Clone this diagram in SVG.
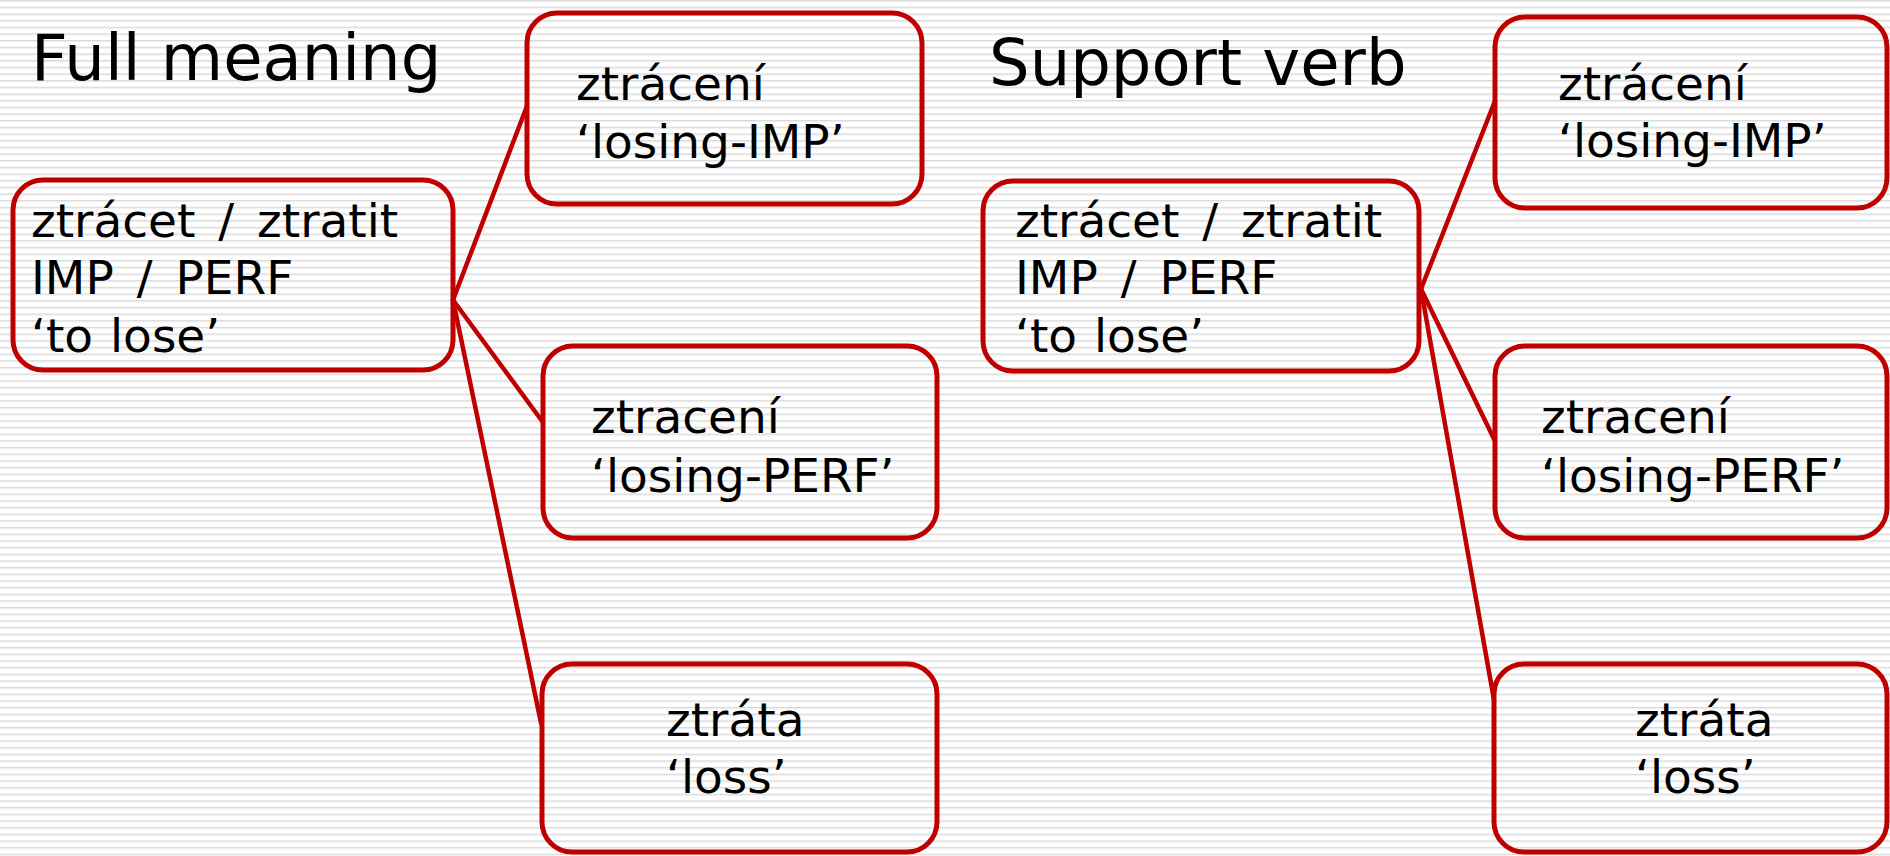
<svg xmlns="http://www.w3.org/2000/svg" width="1890" height="856" viewBox="0 0 1890 856">
  <defs>
    <pattern id="stripes" patternUnits="userSpaceOnUse" x="0" y="0" width="20" height="6.67">
      <rect x="0" y="0" width="20" height="6.67" fill="#ffffff"/>
      <rect x="0" y="0" width="20" height="1.2" fill="#d9d9d9"/>
      <rect x="0" y="1.2" width="20" height="1" fill="#ececec"/>
    </pattern>
  </defs>
  <style>
    .box { fill: none; stroke: #c00000; stroke-width: 5; }
    .conn { stroke: #c00000; stroke-width: 4.5; fill: none; stroke-linecap: round; }
    .t { font-family: "DejaVu Sans", Verdana, sans-serif; font-size: 47px; fill: #000000; word-spacing: 8px; }
    .ns { word-spacing: 2px; }
    .title { font-family: "DejaVu Sans", Verdana, sans-serif; font-size: 64px; fill: #000000; }
  </style>
  <rect x="0" y="0" width="1890" height="856" fill="url(#stripes)"/>

  <g id="title-full"><text class="title" x="31" y="80">Full meaning</text></g>
  <g id="title-support"><text class="title" x="989" y="85">Support verb</text></g>

  <g id="connectors">
    <line class="conn" x1="453" y1="300" x2="527" y2="106"/>
    <line class="conn" x1="453" y1="300" x2="542" y2="421"/>
    <line class="conn" x1="453" y1="300" x2="541" y2="723"/>
    <line class="conn" x1="1421" y1="289" x2="1495" y2="101"/>
    <line class="conn" x1="1421" y1="289" x2="1495" y2="441"/>
    <line class="conn" x1="1421" y1="289" x2="1494" y2="700"/>
  </g>

  <g id="left-main">
    <rect class="box" x="13" y="180" width="440" height="190" rx="30"/>
    <text class="t" x="31" y="237">ztrácet / ztratit</text>
    <text class="t" x="31" y="294">IMP / PERF</text>
    <text class="t ns" x="31" y="352">‘to lose’</text>
  </g>
  <g id="left-imp">
    <rect class="box" x="527" y="13" width="395" height="191" rx="30"/>
    <text class="t" x="576" y="100">ztrácení</text>
    <text class="t" x="576" y="158">‘losing-IMP’</text>
  </g>
  <g id="left-perf">
    <rect class="box" x="543" y="346" width="394" height="192" rx="30"/>
    <text class="t" x="591" y="433">ztracení</text>
    <text class="t" x="591" y="492">‘losing-PERF’</text>
  </g>
  <g id="left-loss">
    <rect class="box" x="542" y="664" width="395" height="188" rx="30"/>
    <text class="t" x="666" y="736">ztráta</text>
    <text class="t" x="666" y="793">‘loss’</text>
  </g>

  <g id="right-main">
    <rect class="box" x="983" y="181" width="436" height="190" rx="30"/>
    <text class="t" x="1015" y="237">ztrácet / ztratit</text>
    <text class="t" x="1015" y="294">IMP / PERF</text>
    <text class="t ns" x="1015" y="352">‘to lose’</text>
  </g>
  <g id="right-imp">
    <rect class="box" x="1495" y="17" width="392" height="191" rx="30"/>
    <text class="t" x="1558" y="100">ztrácení</text>
    <text class="t" x="1558" y="157">‘losing-IMP’</text>
  </g>
  <g id="right-perf">
    <rect class="box" x="1495" y="346" width="392" height="192" rx="30"/>
    <text class="t" x="1541" y="433">ztracení</text>
    <text class="t" x="1541" y="492">‘losing-PERF’</text>
  </g>
  <g id="right-loss">
    <rect class="box" x="1494" y="664" width="393" height="188" rx="30"/>
    <text class="t" x="1635" y="736">ztráta</text>
    <text class="t" x="1635" y="793">‘loss’</text>
  </g>
</svg>
